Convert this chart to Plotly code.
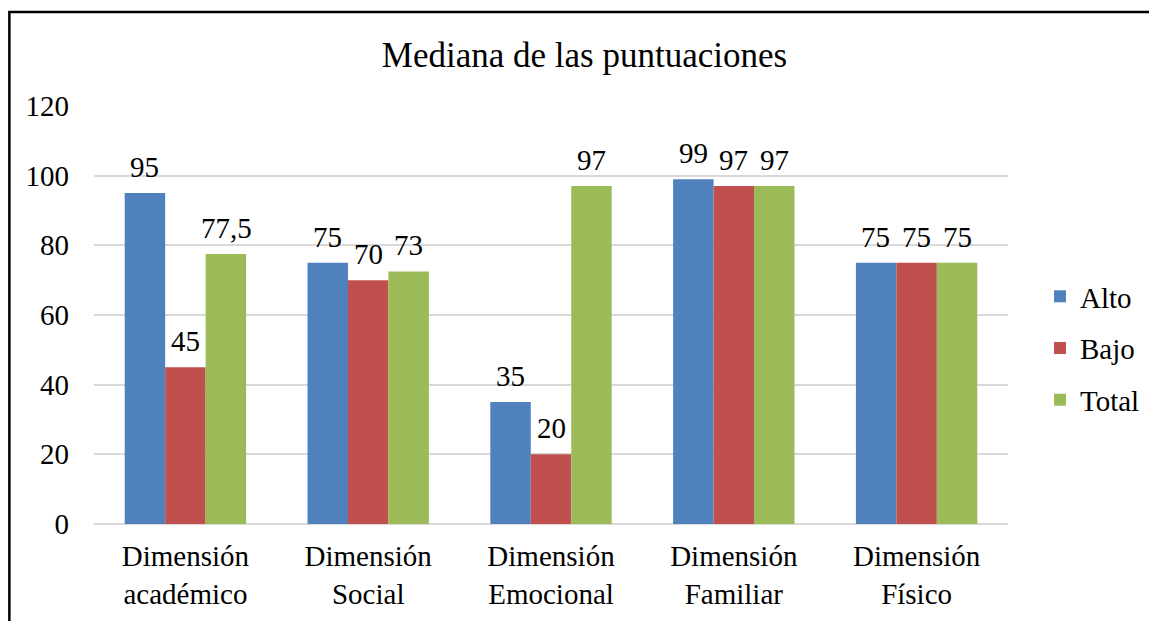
import plotly.graph_objects as go

categories = ["Dimensión<br>académico", "Dimensión<br>Social", "Dimensión<br>Emocional",
              "Dimensión<br>Familiar", "Dimensión<br>Físico"]
series_names = ["Alto", "Bajo", "Total"]
alto = [95, 75, 35, 99, 75]
bajo = [45, 70, 20, 97, 75]
total = [77.5, 72.5, 97, 97, 75]
alto_labels = ["95", "75", "35", "99", "75"]
bajo_labels = ["45", "70", "20", "97", "75"]
total_labels = ["77,5", "73", "97", "97", "75"]
colors = ["#4F81BD", "#C0504D", "#9BBB59"]
y_ticks = [0, 20, 40, 60, 80, 100, 120]

FONT = "Liberation Serif, Times New Roman, serif"
FS = 29

# page has an 8px body margin; size figure to fit the window
W, H = 1149, 613
ML, MR, MT, MB = 86, 145, 98, 97
PW = W - ML - MR
BARGAP = 0.336

fig = go.Figure()
series = [alto, bajo, total]
labels = [alto_labels, bajo_labels, total_labels]
for i, (name, vals, color) in enumerate(zip(series_names, series, colors)):
    fig.add_trace(go.Bar(
        x=categories, y=vals, name=name,
        marker=dict(color=color, line=dict(width=0)),
        legendgroup=name,
    ))

slot = PW / len(categories)
bar_w = slot * (1 - BARGAP) / len(series)
for i, (vals, labs) in enumerate(zip(series, labels)):
    for c, v, t in zip(categories, vals, labs):
        fig.add_annotation(x=c, y=v, text=t, showarrow=False, xref="x", yref="y",
                           xanchor="center", yanchor="bottom",
                           xshift=(i - 1) * bar_w, yshift=8,
                           font=dict(family=FONT, size=FS, color="black"))

fig.update_layout(
    width=W, height=H,
    margin=dict(l=ML, r=MR, t=MT, b=MB),
    paper_bgcolor="white", plot_bgcolor="white",
    font=dict(family=FONT, size=FS, color="black"),
    title=dict(text="Mediana de las puntuaciones", x=576.5 / W, xanchor="center",
               y=(H - 47) / H, yanchor="middle",
               font=dict(family=FONT, size=35, color="black")),
    barmode="group", bargap=BARGAP, bargroupgap=0,
    legend=dict(x=1.035, xanchor="left", y=0.42, yanchor="middle",
                font=dict(family=FONT, size=FS, color="black"),
                tracegroupgap=11, bgcolor="rgba(0,0,0,0)"),
    showlegend=True,
)
fig.update_yaxes(range=[0, 120], tickvals=y_ticks, showgrid=True, gridcolor="#D9D9D9",
                 gridwidth=1.5, zeroline=True, zerolinecolor="#D9D9D9", zerolinewidth=1.5,
                 showline=False, ticklabelstandoff=24,
                 tickfont=dict(family=FONT, size=FS, color="black"))
fig.update_xaxes(showline=False, showgrid=False, ticks="", ticklabelstandoff=12,
                 tickfont=dict(family=FONT, size=FS, color="black"))

PH = H - MT - MB
fig.add_shape(type="rect", xref="paper", yref="paper",
              x0=(1 - ML) / PW, x1=(W + 20 - ML) / PW,
              y0=(PH + MT - (H + 20)) / PH * 1.0 if False else -(MB + 20) / PH,
              y1=(PH + MT - 4) / PH,
              line=dict(color="black", width=2.5), fillcolor="rgba(0,0,0,0)", layer="above")

fig.write_html("out.html")
